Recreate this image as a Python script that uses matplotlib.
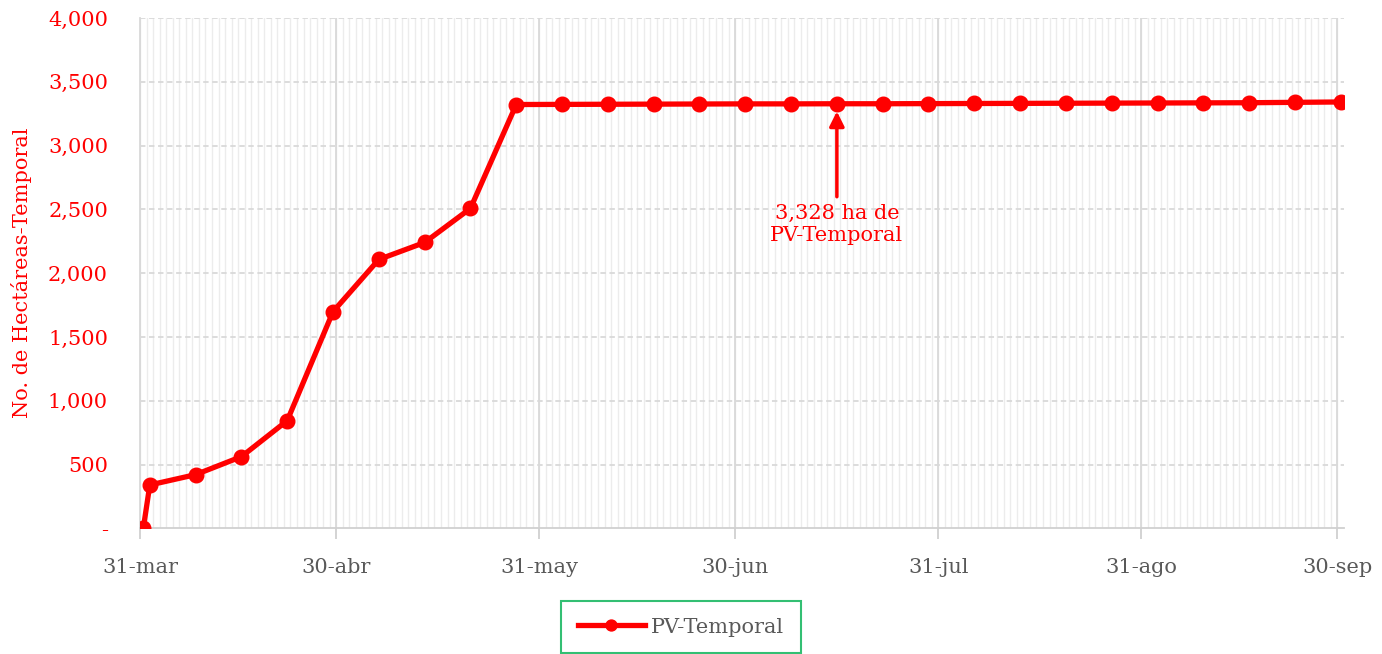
import matplotlib
matplotlib.use("Agg")
import matplotlib.pyplot as plt
import matplotlib.dates as mdates
import pandas as pd

# ----- DATA -----
fechas = ["2023-03-31", "2023-04-01", "2023-04-08", "2023-04-15", "2023-04-22",
          "2023-04-29", "2023-05-06", "2023-05-13", "2023-05-20", "2023-05-27",
          "2023-06-03", "2023-06-10", "2023-06-17", "2023-06-24", "2023-07-01",
          "2023-07-08", "2023-07-15", "2023-07-22", "2023-07-29", "2023-08-05",
          "2023-08-12", "2023-08-19", "2023-08-26", "2023-09-02", "2023-09-09",
          "2023-09-16", "2023-09-23", "2023-09-30"]
hectareas = [0, 341, 422, 563, 845,
             1699, 2108, 2241, 2508, 3322,
             3323, 3324, 3325, 3326, 3327,
             3327, 3328, 3328, 3329, 3330,
             3331, 3332, 3333, 3334, 3335,
             3336, 3339, 3342]

tick_fechas = ["2023-03-31", "2023-04-30", "2023-05-31", "2023-06-30",
               "2023-07-31", "2023-08-31", "2023-09-30"]
tick_labels = ["31-mar", "30-abr", "31-may", "30-jun", "31-jul", "31-ago", "30-sep"]

anot_fecha = "2023-07-15"
anot_valor = 3328
anot_texto = "3,328 ha de\nPV-Temporal"

# ----- STYLE -----
RED = "#FF0000"
GRAY_TXT = "#595959"
plt.rcParams["font.family"] = ["DejaVu Serif"]

x = mdates.date2num(pd.to_datetime(fechas))
xt = mdates.date2num(pd.to_datetime(tick_fechas))

fig = plt.figure(figsize=(13.82, 6.54), dpi=100)
ax = fig.add_axes([0.1013, 0.1919, 0.8712, 0.7806])

# daily minor grid
for d in range(int(x[0]), int(x[-1]) + 1):
    ax.axvline(d - 0.5, color="#ececec", lw=1.0, zorder=0)
for t in xt:
    ax.axvline(t - 0.5, color="#d9d9d9", lw=1.3, zorder=0.5)
for v in range(500, 4001, 500):
    ax.axhline(v, color="#d9d9d9", lw=1.3, ls=(0, (3, 2)), zorder=0.5)

ax.plot(x, hectareas, color=RED, lw=3.8, marker="o", markersize=10.5,
        label="PV-Temporal", zorder=3)

ax.annotate(anot_texto,
            xy=(mdates.date2num(pd.Timestamp(anot_fecha)), anot_valor - 60),
            xytext=(mdates.date2num(pd.Timestamp(anot_fecha)), 2545),
            ha="center", va="top", color=RED, fontsize=15,
            linespacing=1.2,
            arrowprops=dict(arrowstyle="-|>", color=RED, lw=2.5,
                            mutation_scale=22, shrinkA=3, shrinkB=0))

ax.set_xlim(x[0] - 0.5, x[-1] + 0.5)
ax.set_ylim(0, 4000)
ax.set_xticks(xt - 0.5)
ax.set_xticklabels(tick_labels)
ax.set_yticks(range(0, 4001, 500))
ax.set_yticklabels(["-"] + [f"{v:,}" for v in range(500, 4001, 500)])

ax.tick_params(axis="x", colors="#d0d0d0", labelcolor=GRAY_TXT, labelsize=15,
               length=8, width=1.3, pad=13)
ax.tick_params(axis="y", length=0, labelcolor=RED, labelsize=15, pad=23)

for s in ["top", "right"]:
    ax.spines[s].set_visible(False)
ax.spines["left"].set_color("#d9d9d9")
ax.spines["bottom"].set_color("#d0d0d0")
ax.spines["left"].set_linewidth(1.3)
ax.spines["bottom"].set_linewidth(1.3)

ax.set_ylabel("No. de Hectáreas-Temporal", color=RED, fontsize=15)
ax.yaxis.set_label_coords(-0.090, 0.5)

leg = ax.legend(loc="center", bbox_to_anchor=(0.4928, 0.041),
                bbox_transform=fig.transFigure, frameon=True, fancybox=False,
                fontsize=15, handlelength=3.2, borderpad=0.8, markerscale=0.75,
                borderaxespad=0, handletextpad=0.3)
leg.get_frame().set_edgecolor("#00B050")
leg.get_frame().set_linewidth(1.5)
for t in leg.get_texts():
    t.set_color(GRAY_TXT)

fig.savefig("out.png", dpi=100)
